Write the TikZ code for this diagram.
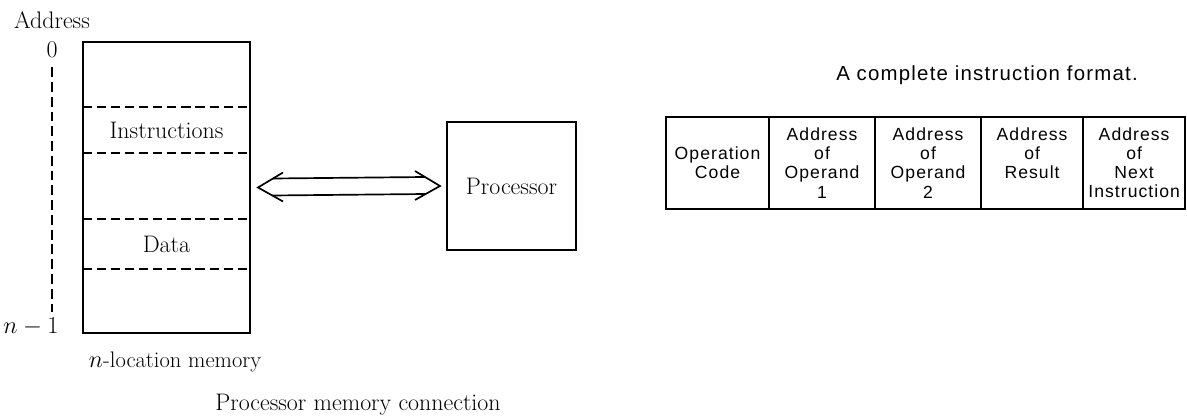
\documentclass[tikz,border=0pt]{standalone}
\usepackage{fontspec}
\usepackage{tikz}
\usetikzlibrary{calc,positioning}
\newfontfamily\fmtfont[LetterSpace=6]{Liberation Sans}

\begin{document}
\begin{tikzpicture}[x=0.025cm,y=-0.025cm,
    font=\fontsize{17}{20}\selectfont,
    box/.style={draw, line width=1.3pt, inner sep=0pt, outer sep=0pt},
    split/.style={line width=1.2pt, dash pattern=on 6.5pt off 3.5pt},
    bus/.style={line width=1.2pt, line join=miter},
    cell/.style={draw, line width=1.2pt, inner sep=0pt, outer sep=0pt,
      minimum height=2.3cm, align=center,
      font=\fmtfont\fontsize{12.5}{13.6}\selectfont}]
  \useasboundingbox (0,0) rectangle (1187,418);

  % memory block with its address range
  \node (mem) at (166.5,187.5) [box, minimum width=4.175cm, minimum height=7.275cm] {};
  \draw[split] (mem.west |- 0,107) -- (mem.east |- 0,107);
  \draw[split] (mem.west |- 0,153) -- (mem.east |- 0,153);
  \draw[split] (mem.west |- 0,219) -- (mem.east |- 0,219);
  \draw[split] (mem.west |- 0,269) -- (mem.east |- 0,269);
  \node (instr) at (166.5,130) {Instructions};
  \node (data) at (166.5,244) {Data};
  \node (addr) at (52,20) {Address};
  \node (zero) at (52,50) {0};
  \node (last) at (31,327) {$n-1$};
  \draw[line width=1.3pt, dash pattern=on 7pt off 3.5pt, shorten <=3pt]
    (zero.south) -- (zero.south |- 0,312);
  \node (memcap) at (84,362) [anchor=west, font=\fontsize{16}{19}\selectfont] {$n$-location memory};

  % processor and the bus between the two
  \node (proc) at (511.5,186) [box, minimum width=3.225cm, minimum height=3.2cm] {Processor};
  \path ($(mem.east)+(8,0)$) coordinate (lt) ($(proc.west)+(-7,0)$) coordinate (rt);
  \draw[bus] ($(lt)+(25,-15)$) -- (lt) -- ($(lt)+(25,14)$);
  \draw[bus] ($(rt)+(-25,-15)$) -- (rt) -- ($(rt)+(-25,14)$);
  \draw[bus] ($(lt)+(15,-9)$) -- ($(rt)+(-15,-9)$);
  \draw[bus] ($(lt)+(14.3,8)$) -- ($(rt)+(-14.3,8)$);
  \node (cap) at (358,405) {Processor memory connection};

  % instruction format
  \node (fmt) at (987,75) [font=\fmtfont\fontsize{14.5}{16}\selectfont] {A complete instruction format.};
  \node (opc) at (666,163) [cell, anchor=west, minimum width=2.575cm] {Operation\\Code};
  \node (opa) [cell, right=0pt of opc, minimum width=2.65cm] {Address\\of\\Operand\\1};
  \node (opb) [cell, right=0pt of opa, minimum width=2.65cm] {Address\\of\\Operand\\2};
  \node (res) [cell, right=0pt of opb, minimum width=2.55cm] {Address\\of\\Result\\\phantom{1}};
  \node (nxt) [cell, right=0pt of res, minimum width=2.55cm] {Address\\of\\Next\\Instruction};
\end{tikzpicture}
\end{document}
